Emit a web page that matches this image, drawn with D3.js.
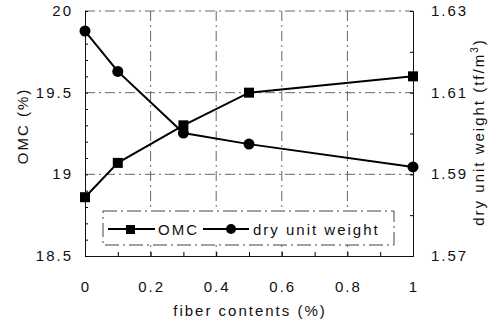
<!DOCTYPE html>
<html>
<head>
<meta charset="utf-8">
<script src="https://cdn.jsdelivr.net/npm/d3@7"></script>
<style>
  body { margin: 0; background: #fff; }
  text { font-family: "Liberation Sans", Arial, sans-serif; fill: #111; letter-spacing: 2px; }
</style>
</head>
<body>
<div id="chart"></div>
<script>
const width = 488;
const height = 321;

// data
var fiber = [0, 0.1, 0.3, 0.5, 1];
var omc = [18.86, 19.07, 19.30, 19.50, 19.60];
var dryWeight = [1.6251, 1.6152, 1.6001, 1.5974, 1.5918];
var xTicks = [0, 0.2, 0.4, 0.6, 0.8, 1];
var leftTicks = [18.5, 19, 19.5, 20];
var rightTicks = [1.57, 1.59, 1.61, 1.63];

var plot = {left: 85, right: 413, top: 11, bottom: 256};

var svg = d3.select("#chart").append("svg")
  .attr("width", width)
  .attr("height", height);

var x = d3.scaleLinear().domain([0, 1]).range([plot.left, plot.right]);
var yL = d3.scaleLinear().domain([18.5, 20]).range([plot.bottom, plot.top]);
var yR = d3.scaleLinear().domain([1.57, 1.63]).range([plot.bottom, plot.top]);

//grid lines (dash-dot, scanned look)
var grid = svg.append("g")
  .attr("stroke", "#666")
  .attr("stroke-width", 1)
  .attr("stroke-dasharray", "10,4,2,4");

grid.selectAll(".vgrid").data([0.2, 0.4, 0.6, 0.8]).enter().append("line")
  .attr("x1", d => x(d)).attr("x2", d => x(d))
  .attr("y1", plot.top).attr("y2", plot.bottom);

grid.selectAll(".hgrid").data([19, 19.5]).enter().append("line")
  .attr("x1", plot.left).attr("x2", plot.right)
  .attr("y1", d => yL(d)).attr("y2", d => yL(d));

grid.append("line")
  .attr("x1", plot.left).attr("x2", plot.right)
  .attr("y1", plot.top).attr("y2", plot.top);

//axes
var fmt = d => String(d);
svg.append("g")
  .attr("transform", "translate(0," + plot.bottom + ")")
  .call(d3.axisBottom(x).tickValues(d3.range(0, 1.001, 0.1)).tickSize(-4).tickFormat(""))
  .call(g => g.select(".domain").attr("stroke", "#111"));

svg.append("g")
  .attr("transform", "translate(" + plot.left + ",0)")
  .call(d3.axisLeft(yL).tickValues(d3.range(18.5, 20.01, 0.1)).tickSize(-3).tickFormat(""))
  .call(g => g.select(".domain").attr("stroke", "#111"));

svg.append("g")
  .attr("transform", "translate(" + plot.right + ",0)")
  .call(d3.axisRight(yR).tickValues(d3.range(1.57, 1.6301, 0.01)).tickSize(-3).tickFormat(""))
  .call(g => g.select(".domain").attr("stroke", "#111"));

//tick labels
svg.selectAll(".xl").data(xTicks).enter().append("text")
  .attr("x", d => x(d) + 1)
  .attr("y", 292)
  .attr("text-anchor", "middle")
  .attr("font-size", 15)
  .text(fmt);

svg.selectAll(".yl").data(leftTicks).enter().append("text")
  .attr("x", 73)
  .attr("y", d => yL(d) + 5)
  .attr("text-anchor", "end")
  .attr("font-size", 15)
  .text(fmt);

svg.selectAll(".yr").data(rightTicks).enter().append("text")
  .attr("x", 431)
  .attr("y", d => yR(d) + 5)
  .attr("font-size", 15)
  .text(fmt);

//axis titles
svg.append("text")
  .attr("x", 250).attr("y", 316)
  .attr("text-anchor", "middle")
  .attr("font-size", 15)
  .text("fiber contents (%)");

svg.append("text")
  .attr("transform", "translate(28,126) rotate(-90)")
  .attr("text-anchor", "middle")
  .attr("font-size", 15)
  .text("OMC (%)");

var rt = svg.append("text")
  .attr("transform", "translate(484,132) rotate(-90)")
  .attr("text-anchor", "middle")
  .attr("font-size", 15);
rt.append("tspan").text("dry unit weight (tf/m");
rt.append("tspan").attr("dy", -6).attr("font-size", 10).text("3");
rt.append("tspan").attr("dy", 6).text(")");

//series
var omcPts = fiber.map((f, i) => [x(f), yL(omc[i])]);
var dryPts = fiber.map((f, i) => [x(f), yR(dryWeight[i])]);

svg.append("path")
  .attr("d", d3.line()(omcPts))
  .attr("fill", "none").attr("stroke", "#000").attr("stroke-width", 2);
svg.append("path")
  .attr("d", d3.line()(dryPts))
  .attr("fill", "none").attr("stroke", "#000").attr("stroke-width", 2);

svg.selectAll(".sq").data(omcPts).enter().append("rect")
  .attr("x", d => d[0] - 5).attr("y", d => d[1] - 5)
  .attr("width", 10).attr("height", 10)
  .attr("fill", "#000");

svg.selectAll(".ci").data(dryPts).enter().append("circle")
  .attr("cx", d => d[0]).attr("cy", d => d[1])
  .attr("r", 5.5)
  .attr("fill", "#000");

//legend
var leg = svg.append("g");
leg.append("rect")
  .attr("x", 103).attr("y", 211)
  .attr("width", 291).attr("height", 34)
  .attr("fill", "#fff")
  .attr("stroke", "#444")
  .attr("stroke-dasharray", "14,4,2,4");

leg.append("line").attr("x1", 108).attr("x2", 155).attr("y1", 229).attr("y2", 229)
  .attr("stroke", "#000").attr("stroke-width", 2);
leg.append("rect").attr("x", 126).attr("y", 225).attr("width", 9).attr("height", 9).attr("fill", "#000");
leg.append("text").attr("x", 158).attr("y", 235).attr("font-size", 15).text("OMC");

leg.append("line").attr("x1", 203).attr("x2", 249).attr("y1", 229).attr("y2", 229)
  .attr("stroke", "#000").attr("stroke-width", 2);
leg.append("circle").attr("cx", 231).attr("cy", 229).attr("r", 5).attr("fill", "#000");
leg.append("text").attr("x", 253).attr("y", 235).attr("font-size", 15).text("dry unit weight");
</script>
</body>
</html>
